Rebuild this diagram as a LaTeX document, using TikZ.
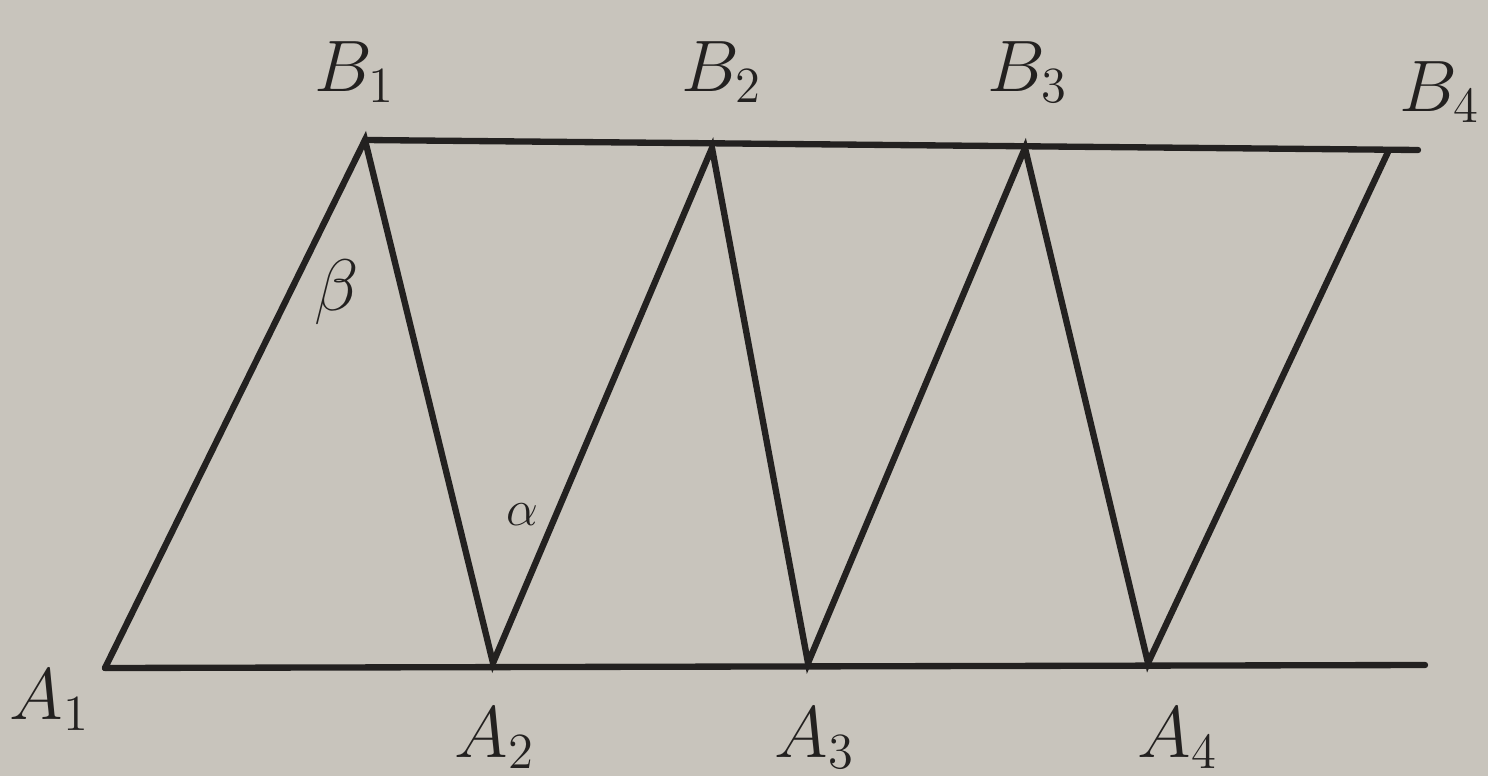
\documentclass[tikz,border=0pt]{standalone}
\definecolor{paper}{RGB}{200,196,188}
\definecolor{ink}{RGB}{35,33,32}
\begin{document}
\begin{tikzpicture}[x=0.01cm,y=-0.01cm,
  bar/.style={line width=1.8pt,draw=ink,line cap=round},
  lbl/.style={font=\fontsize{20}{22}\selectfont,text=ink}]
\fill[paper] (0,0) rectangle (1488,776);
\useasboundingbox (0,0) rectangle (1488,776);
\coordinate (A1) at (105,668);
\coordinate (A2) at (493,663);
\coordinate (A3) at (808,663);
\coordinate (A4) at (1148,663);
\coordinate (AE) at (1425,665);
\coordinate (B1) at (365,140);
\coordinate (B2) at (712,148);
\coordinate (B3) at (1025,148);
\coordinate (B4) at (1388,152);
\coordinate (BE) at (1418,150);
\draw[bar] (A1) -- (AE);
\draw[bar] (B1) -- (BE);
\draw[bar] (A1) -- (B1) -- (A2) -- (B2) -- (A3) -- (B3) -- (A4) -- (B4);
\node[lbl] (lB1) at (355,72) {$B_1$};
\node[lbl] (lB2) at (722,72) {$B_2$};
\node[lbl] (lB3) at (1028,72) {$B_3$};
\node[lbl] (lB4) at (1440,92) {$B_4$};
\node[lbl] (lA1) at (50,700) {$A_1$};
\node[lbl] (lA2) at (495,738) {$A_2$};
\node[lbl] (lA3) at (815,738) {$A_3$};
\node[lbl] (lA4) at (1178,738) {$A_4$};
\node[lbl] (beta) at (337,292) {$\beta$};
\node[lbl,font=\fontsize{14}{16}\selectfont] (alpha) at (522,515) {$\alpha$};
\end{tikzpicture}
\end{document}
